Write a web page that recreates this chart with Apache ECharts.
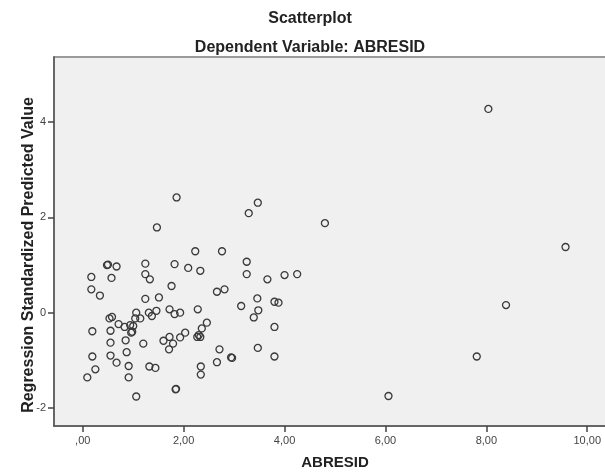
<!DOCTYPE html>
<html>
<head>
<meta charset="utf-8">
<script src="https://cdn.jsdelivr.net/npm/echarts@6/dist/echarts.min.js"></script>
<style>
html,body{margin:0;padding:0;background:#fff;}
#chart{width:605px;height:473px;}
</style>
</head>
<body>
<div id="chart"></div>
<script>
const titleText = "Scatterplot";
const subtitleText = "Dependent Variable: ABRESID";
const xName = "ABRESID";
const yName = "Regression Standardized Predicted Value";
const xTicks = [0, 2, 4, 6, 8, 10];
const yTicks = [-2, 0, 2, 4];
const abresid = [
  2.23, 2.76, 0.48, 0.50, 0.67, 1.24, 1.82, 2.09, 2.33, 0.17,
  0.57, 1.24, 1.33, 1.76, 0.17, 0.34, 2.66, 2.81, 1.24, 1.51,
  3.14, 0.58, 0.53, 0.71, 0.83, 0.94, 1.06, 1.04, 1.14, 1.00,
  0.96, 0.98, 1.31, 1.46, 1.37, 1.72, 1.82, 1.93, 2.28, 2.46,
  2.36, 2.30, 2.27, 2.33, 2.03, 1.93, 1.72, 1.60, 1.79, 0.55,
  0.55, 0.85, 1.20, 1.71, 0.19, 0.87, 0.19, 0.55, 0.67, 0.91,
  1.32, 1.44, 0.25, 0.09, 0.91, 2.34, 2.34, 2.66, 2.71, 2.94,
  2.96, 1.84, 1.85, 1.06, 3.47, 3.29, 4.80, 3.25, 3.25, 3.66,
  4.00, 4.25, 3.46, 3.48, 3.39, 3.80, 3.88, 3.80, 3.47, 3.80,
  6.06, 8.04, 9.57, 8.39, 7.81, 1.86, 1.47
];
const predicted = [
  1.29, 1.29, 1.00, 1.01, 0.97, 1.03, 1.02, 0.94, 0.88, 0.75,
  0.73, 0.81, 0.70, 0.56, 0.49, 0.36, 0.44, 0.49, 0.29, 0.32,
  0.14, -0.09, -0.12, -0.24, -0.30, -0.26, 0.00, -0.12, -0.12, -0.28,
  -0.42, -0.40, 0.00, 0.04, -0.07, 0.07, -0.03, 0.00, 0.07, -0.21,
  -0.33, -0.47, -0.51, -0.51, -0.42, -0.52, -0.51, -0.59, -0.65, -0.38,
  -0.63, -0.58, -0.65, -0.77, -0.39, -0.83, -0.92, -0.90, -1.05, -1.12,
  -1.13, -1.16, -1.19, -1.36, -1.36, -1.13, -1.30, -1.04, -0.77, -0.94,
  -0.95, -1.61, -1.60, -1.76, 2.31, 2.09, 1.88, 1.07, 0.81, 0.70,
  0.79, 0.81, 0.30, 0.05, -0.10, 0.23, 0.21, -0.30, -0.74, -0.92,
  -1.75, 4.28, 1.38, 0.16, -0.92, 2.42, 1.79
];

const points = abresid.map((x, i) => [x, predicted[i]]);
const chart = echarts.init(document.getElementById('chart'), null, {renderer: 'canvas'});
const fmtX = v => {
  const s = Number(v).toFixed(2).replace('.', ',');
  return s.startsWith('0,') ? s.slice(1) : s;
};
const titleStyle = {fontFamily: 'Liberation Sans', fontWeight: 'bold', fontSize: 16, color: '#222'};
chart.setOption({
  animation: false,
  backgroundColor: '#ffffff',
  title: [
    {text: titleText, left: 305, top: 6, textAlign: 'center', textStyle: titleStyle},
    {text: subtitleText, left: 305, top: 35, textAlign: 'center', textStyle: titleStyle}
  ],
  grid: {left: 54, top: 57, width: 562, bottom: 47, show: true,
         outerBoundsMode: 'none', containLabel: false,
         backgroundColor: '#f0f0f0', borderColor: '#9a9a9a', borderWidth: 2},
  xAxis: {
    type: 'value', min: -0.57, max: 10.57,
    name: xName, nameLocation: 'middle', nameGap: 29,
    nameTextStyle: {fontFamily: 'Liberation Sans', fontWeight: 'bold', fontSize: 15, color: '#222'},
    axisLine: {show: true, onZero: false, lineStyle: {color: '#555', width: 1.5}},
    axisTick: {show: true, length: 6, customValues: xTicks, lineStyle: {color: '#444', width: 1.5}},
    axisLabel: {customValues: xTicks, formatter: fmtX, margin: 9,
                fontFamily: 'Liberation Sans', fontSize: 11, color: '#444'},
    splitLine: {show: false}
  },
  yAxis: {
    type: 'value', min: -2.38, max: 5.37,
    axisLine: {show: true, onZero: false, lineStyle: {color: '#555', width: 1.5}},
    axisTick: {show: true, length: 6, customValues: yTicks, lineStyle: {color: '#444', width: 1.5}},
    axisLabel: {customValues: yTicks, margin: 8,
                fontFamily: 'Liberation Sans', fontSize: 11, color: '#444'},
    splitLine: {show: false}
  },
  graphic: [{
    type: 'text', x: 29, y: 255, rotation: Math.PI / 2,
    style: {text: yName, align: 'center', verticalAlign: 'middle',
            font: 'bold 16px "Liberation Sans"', fill: '#222'}
  }],
  series: [{
    type: 'scatter', data: points, symbol: 'circle', symbolSize: 7,
    itemStyle: {color: 'rgba(0,0,0,0)', borderColor: '#3a3a3a', borderWidth: 1.3, opacity: 1},
    emphasis: {disabled: true}, silent: true
  }]
});
</script>
</body>
</html>
